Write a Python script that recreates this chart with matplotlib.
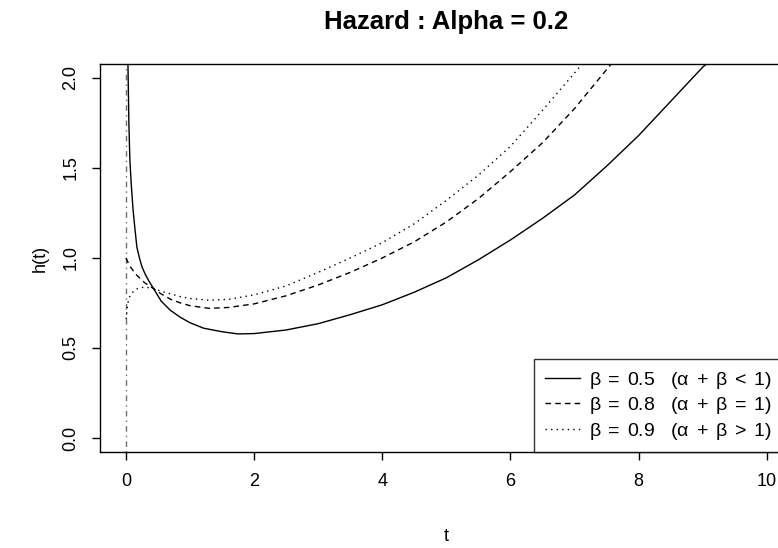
import matplotlib
matplotlib.use('Agg')
import matplotlib.pyplot as plt

plt.rcParams['font.family'] = ['Liberation Sans', 'DejaVu Sans']
plt.rcParams['mathtext.fontset'] = 'custom'
plt.rcParams['mathtext.rm'] = 'Liberation Sans'
plt.rcParams['mathtext.it'] = 'Liberation Sans'

# values
t_b05 = [0.03, 0.045, 0.06, 0.08, 0.11, 0.14, 0.17, 0.21, 0.25, 0.3, 0.36, 0.43, 0.55,
         0.69, 0.85, 1.0, 1.21, 1.5, 1.75, 2.0, 2.5, 3.0, 3.5, 4.0, 4.5, 5.0, 5.5,
         6.0, 6.5, 7.0, 7.5, 8.0, 8.5, 9.0, 9.1]
h_b05 = [2.09, 1.75, 1.55, 1.42, 1.27, 1.16, 1.06, 1.0, 0.95, 0.91, 0.87, 0.83, 0.76,
         0.71, 0.67, 0.64, 0.61, 0.59, 0.578, 0.58, 0.60, 0.635, 0.685, 0.74, 0.81,
         0.89, 0.99, 1.10, 1.22, 1.35, 1.51, 1.68, 1.87, 2.06, 2.09]

t_b08 = [0.0, 0.05, 0.15, 0.3, 0.43, 0.55, 0.7, 0.85, 1.0, 1.3, 1.6, 2.0, 2.5, 3.0,
         3.5, 4.0, 4.5, 5.0, 5.5, 6.0, 6.5, 7.0, 7.6]
h_b08 = [1.0, 0.96, 0.91, 0.86, 0.83, 0.80, 0.77, 0.75, 0.735, 0.72, 0.725, 0.745,
         0.79, 0.85, 0.92, 1.0, 1.09, 1.2, 1.33, 1.48, 1.64, 1.83, 2.09]

t_b09 = [0.003, 0.015, 0.03, 0.05, 0.08, 0.15, 0.22, 0.3, 0.43, 0.55, 0.7, 0.85, 1.0,
         1.3, 1.6, 2.0, 2.5, 3.0, 3.5, 4.0, 4.5, 5.0, 5.5, 6.0, 6.5, 7.15]
h_b09 = [0.66, 0.71, 0.75, 0.78, 0.80, 0.825, 0.835, 0.838, 0.83, 0.815, 0.80, 0.785,
         0.775, 0.765, 0.77, 0.795, 0.845, 0.92, 1.0, 1.085, 1.19, 1.32, 1.46, 1.62,
         1.82, 2.09]

labels = [r'$\beta\;=\;0.5\quad\left(\alpha\;+\;\beta\;<\;1\right)$',
          r'$\beta\;=\;0.8\quad\left(\alpha\;+\;\beta\;=\;1\right)$',
          r'$\beta\;=\;0.9\quad\left(\alpha\;+\;\beta\;>\;1\right)$']

fig = plt.figure(figsize=(7.78, 5.48), dpi=100)
ax = fig.add_axes([0.129, 0.1745, 0.8895, 0.7095])

ax.axvline(0, color='#6e6e6e', lw=1.0, linestyle=(0, (1, 3, 4, 3)), zorder=1)
ax.plot(t_b05, h_b05, color='black', lw=1.0, linestyle='-', label=labels[0], zorder=3)
ax.plot(t_b08, h_b08, color='black', lw=1.0, linestyle=(0, (4, 3)), label=labels[1], zorder=3)
ax.plot(t_b09, h_b09, color='black', lw=1.0, linestyle=(0, (1, 3)), label=labels[2], zorder=3)

ax.set_xlim(-0.4, 10.4)
ax.set_ylim(-0.08, 2.08)
ax.set_xticks([0, 2, 4, 6, 8, 10])
ax.set_yticks([0.0, 0.5, 1.0, 1.5, 2.0])
ax.set_yticklabels(['0.0', '0.5', '1.0', '1.5', '2.0'], rotation=90, va='center')
ax.tick_params(direction='out', length=6, width=1, labelsize=13, pad=9)
for s in ax.spines.values():
    s.set_linewidth(1.0)

ax.set_title('Hazard : Alpha = 0.2', fontsize=18.5, fontweight='bold', pad=25)
ax.set_xlabel('t', fontsize=13, labelpad=27)
ax.set_ylabel('h(t)', fontsize=13, labelpad=10)

# legend sits in the bottom right corner, its right side runs past the figure edge
leg = ax.legend(loc='lower left', bbox_to_anchor=(0.6266, 0.0), fontsize=14,
                frameon=True, fancybox=False, edgecolor='black',
                handlelength=1.8, handletextpad=0.5, borderaxespad=0.0,
                labelspacing=0.23, borderpad=0.55)
leg.get_frame().set_linewidth(1.0)

fig.savefig('out.png', dpi=100)
